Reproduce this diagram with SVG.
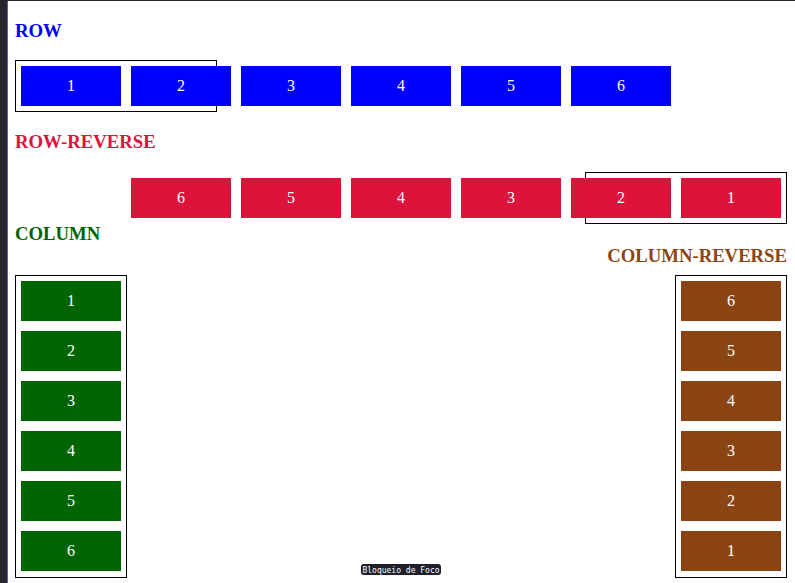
<svg xmlns="http://www.w3.org/2000/svg" width="795" height="583" viewBox="0 0 795 583">
<style>
.t{font-family:"Liberation Serif",serif;font-weight:bold;font-size:18.72px}
.n{font-family:"Liberation Serif",serif;font-size:16px;fill:#fff;text-anchor:middle}
.box{fill:none;stroke:#000;stroke-width:1}
.b{fill:#0000ff}.r{fill:#dc143c}.g{fill:#006400}.br{fill:#8b4513}
</style>
<rect width="795" height="583" fill="#fff"/>
<rect x="0" y="0" width="7" height="583" fill="#25262f"/>
<rect x="7" y="0" width="1" height="583" fill="#6b5aa0"/>
<rect x="0" y="0" width="795" height="1" fill="#25262f"/>
<g id="row">
<text class="t" x="15" y="37" fill="#0000ff">ROW</text>
<rect class="box" x="15.5" y="60.5" width="201" height="51"/>
<g id="row-items">
<rect class="b" x="21" y="66" width="100" height="40"/><text class="n" x="71" y="91">1</text>
<rect class="b" x="131" y="66" width="100" height="40"/><text class="n" x="181" y="91">2</text>
<rect class="b" x="241" y="66" width="100" height="40"/><text class="n" x="291" y="91">3</text>
<rect class="b" x="351" y="66" width="100" height="40"/><text class="n" x="401" y="91">4</text>
<rect class="b" x="461" y="66" width="100" height="40"/><text class="n" x="511" y="91">5</text>
<rect class="b" x="571" y="66" width="100" height="40"/><text class="n" x="621" y="91">6</text>
</g>
</g>
<g id="row-reverse">
<text class="t" x="15" y="148" fill="#dc143c">ROW-REVERSE</text>
<rect class="box" x="585.5" y="172.5" width="201" height="51"/>
<rect class="r" x="131" y="178" width="100" height="40"/><text class="n" x="181" y="203">6</text>
<rect class="r" x="241" y="178" width="100" height="40"/><text class="n" x="291" y="203">5</text>
<rect class="r" x="351" y="178" width="100" height="40"/><text class="n" x="401" y="203">4</text>
<rect class="r" x="461" y="178" width="100" height="40"/><text class="n" x="511" y="203">3</text>
<rect class="r" x="571" y="178" width="100" height="40"/><text class="n" x="621" y="203">2</text>
<rect class="r" x="681" y="178" width="100" height="40"/><text class="n" x="731" y="203">1</text>
</g>
<g id="column">
<text class="t" x="15" y="240" fill="#006400">COLUMN</text>
<rect class="box" x="15.5" y="275.5" width="111" height="302"/>
<rect class="g" x="21" y="281" width="100" height="40"/><text class="n" x="71" y="306">1</text>
<rect class="g" x="21" y="331" width="100" height="40"/><text class="n" x="71" y="356">2</text>
<rect class="g" x="21" y="381" width="100" height="40"/><text class="n" x="71" y="406">3</text>
<rect class="g" x="21" y="431" width="100" height="40"/><text class="n" x="71" y="456">4</text>
<rect class="g" x="21" y="481" width="100" height="40"/><text class="n" x="71" y="506">5</text>
<rect class="g" x="21" y="531" width="100" height="40"/><text class="n" x="71" y="556">6</text>
</g>
<g id="column-reverse">
<text class="t" x="787" y="262" fill="#8b4513" text-anchor="end">COLUMN-REVERSE</text>
<rect class="box" x="675.5" y="275.5" width="111" height="302"/>
<rect class="br" x="681" y="281" width="100" height="40"/><text class="n" x="731" y="306">6</text>
<rect class="br" x="681" y="331" width="100" height="40"/><text class="n" x="731" y="356">5</text>
<rect class="br" x="681" y="381" width="100" height="40"/><text class="n" x="731" y="406">4</text>
<rect class="br" x="681" y="431" width="100" height="40"/><text class="n" x="731" y="456">3</text>
<rect class="br" x="681" y="481" width="100" height="40"/><text class="n" x="731" y="506">2</text>
<rect class="br" x="681" y="531" width="100" height="40"/><text class="n" x="731" y="556">1</text>
</g>
<g id="tooltip">
<rect x="361" y="564" width="80" height="11" rx="3" fill="#1f2029"/>
<text x="401" y="572.5" text-anchor="middle" font-family="'DejaVu Sans Mono',monospace" font-size="8" fill="#fff">Bloqueio de Foco</text>
</g>
<g id="connectors"/>
</svg>
